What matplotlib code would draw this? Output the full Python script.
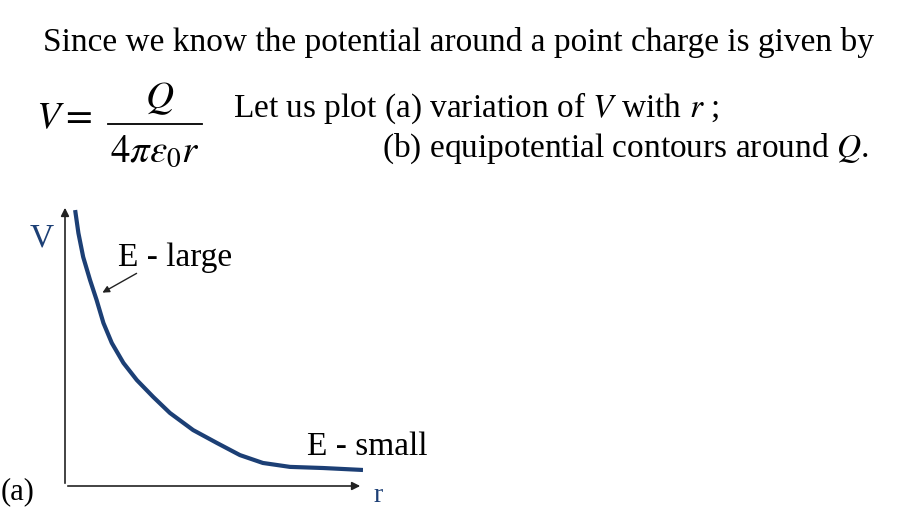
import matplotlib.pyplot as plt
import numpy as np

plt.rcParams['mathtext.fontset'] = 'stix'
plt.rcParams['font.family'] = ['Liberation Serif', 'DejaVu Serif']

# curve V(r) (arbitrary units)
r_vals = [0.34, 0.45, 0.61, 0.84, 1.06, 1.29, 1.57, 1.96, 2.41, 2.96,
          3.52, 4.30, 5.10, 5.87, 6.64, 7.55, 8.66, 10.0]
v_vals = [9.82, 9.00, 8.15, 7.33, 6.62, 5.80, 5.09, 4.38, 3.77, 3.17,
          2.60, 1.99, 1.53, 1.10, 0.82, 0.68, 0.64, 0.57]

title_line = 'Since we know the potential around a point charge is given by'
line_a = 'Let us plot (a) variation of $V$ with $r$ ;'
line_b = '(b) equipotential contours around $Q$.'
navy = '#1c3f75'

W, H = 911, 507
fig = plt.figure(figsize=(W / 100, H / 100), dpi=100)

# overlay in pixel coords for the slide text
ov = fig.add_axes([0, 0, 1, 1])
ov.set_xlim(0, W)
ov.set_ylim(H, 0)
ov.axis('off')

ov.text(43, 43, title_line, fontsize=24, va='center', ha='left')
ov.text(36, 119, '$V =$', fontsize=28, va='center', ha='left')
ov.text(160, 99, '$Q$', fontsize=28, va='center', ha='center')
ov.plot([108, 202], [124, 124], color='black', lw=1.3)
ov.text(155, 152, r'$4\pi\varepsilon_0 r$', fontsize=28, va='center', ha='center')
ov.text(233, 108, line_a, fontsize=24, va='center', ha='left')
ov.text(382, 149, line_b, fontsize=24, va='center', ha='left')

# plot area
left, right, top, bottom = 65, 363, 205, 486
ax = fig.add_axes([left / W, 1 - bottom / H, (right - left) / W, (bottom - top) / H])
ax.set_xlim(0, 10)
ax.set_ylim(0, 10)
ax.axis('off')
ax.patch.set_alpha(0)

ax.plot(r_vals, v_vals, color=navy, lw=3, solid_capstyle='butt', solid_joinstyle='round')

arr = dict(arrowstyle='-|>', color='#222222', lw=1.2, mutation_scale=12)
ax.annotate('', xy=(1, 0), xytext=(0, 0), xycoords='axes fraction', arrowprops=arr)
ax.annotate('', xy=(0, 1), xytext=(0, 0), xycoords='axes fraction', arrowprops=arr)

ov.text(42, 238, 'V', fontsize=24, color=navy, va='center', ha='center')
ov.text(118, 258, 'E - large', fontsize=24, va='center', ha='left')
ov.annotate('', xy=(100, 294), xytext=(139, 272),
            arrowprops=dict(arrowstyle='-|>', color='#222222', lw=1.0, mutation_scale=10))
ov.text(307, 447, 'E - small', fontsize=24, va='center', ha='left')
ov.text(1, 492, '(a)', fontsize=22, va='center', ha='left')
ov.text(378, 496, 'r', fontsize=20, color=navy, va='center', ha='center')

fig.savefig('out.png', dpi=100)
